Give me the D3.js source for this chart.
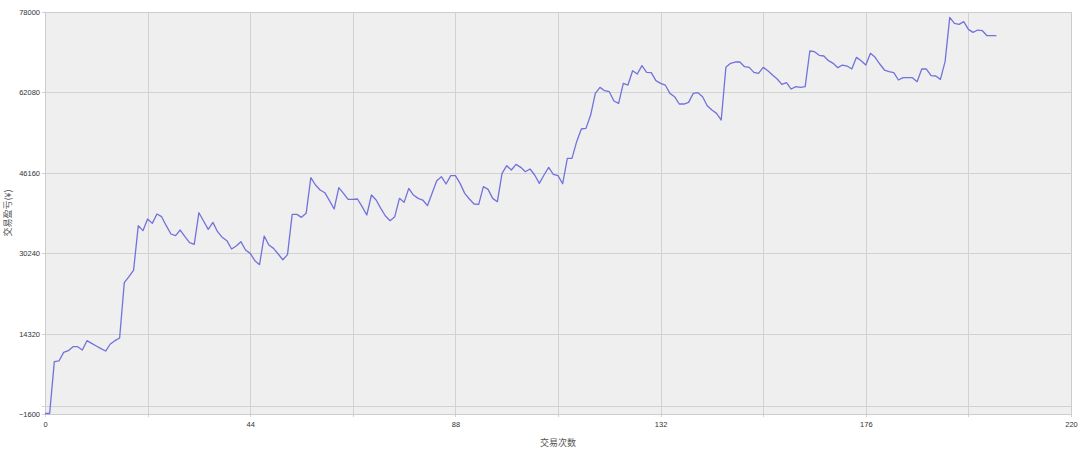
<!DOCTYPE html>
<html><head><meta charset="utf-8">
<script src="https://cdn.jsdelivr.net/npm/d3@7/dist/d3.min.js"></script>
<style>body{margin:0;background:#fff}svg{display:block}</style>
</head><body>
<svg id="c" width="1080" height="453"></svg>
<script>
const profit = [
-1500,-1500,8760,8900,10610,10940,11730,11730,11070,12920,
12390,11860,11340,10870,12260,12920,13450,24400,25590,26910,
35690,34700,37010,36150,38000,37470,35690,34040,33710,34830,
33510,32320,31990,38260,36610,34970,36350,34500,33380,32720,
31070,31660,32520,30870,30210,28760,27970,33640,31860,31200,
30080,28950,29950,37930,37930,37340,38130,45190,43740,42750,
42220,40640,38990,43210,42090,40900,40900,40970,39450,37800,
41760,40770,39120,37600,36680,37470,41100,40310,43080,41760,
41100,40770,39650,42090,44600,45390,43940,45590,45590,44070,
42090,40970,39980,39920,43410,42880,41100,40440,46050,47570,
46710,47830,47240,46380,46910,45720,44070,45720,47240,45850,
45590,44000,49020,49020,52322,54830,54962,57602,61892,63080,
62420,62222,60374,59912,63872,63542,66380,65720,67370,66050,
65984,64400,63872,63542,61892,61232,59780,59780,60110,61892,
62024,61232,59450,58592,57932,56612,67040,67832,68096,68096,
67172,67040,66050,65852,67040,66380,65522,64730,63674,64004,
62750,63212,63080,63212,70274,70142,69416,69284,68360,67832,
66974,67502,67304,66710,69020,68360,67502,69812,69020,67700,
66512,66182,65984,64532,64994,64994,64994,64202,66710,66710,
65390,65324,64664,68162,76940,75752,75554,76082,74564,73970,
74432,74300,73310,73310,73310
];
const yTicks = [-1600, 14320, 30240, 46160, 62080, 78000];
const yGridExtra = [0];
const xTicks = [0, 22, 44, 66, 88, 110, 132, 154, 176, 198, 220];
const xLabels = [0, 44, 88, 132, 176, 220];
const xTitle = "交易次数";
const yTitle = "交易盈亏(¥)";

const svg = d3.select("#c");
const L = 45, R = 1071, T = 12, B = 414;
const x = d3.scaleLinear().domain([0, 220]).range([L, R]);
const y = d3.scaleLinear().domain([-1600, 78000]).range([B, T]);

svg.append("rect").attr("x", L).attr("y", T).attr("width", R - L).attr("height", B - T).attr("fill", "#efefef");

const grid = svg.append("g").attr("stroke", "#d2d2d2").attr("stroke-width", 1).attr("shape-rendering", "crispEdges");
grid.selectAll("line.v").data(xTicks).join("line")
  .attr("x1", d => Math.round(x(d)) + 0.5).attr("x2", d => Math.round(x(d)) + 0.5)
  .attr("y1", T).attr("y2", B + 3);
grid.selectAll("line.h").data(yTicks.concat(yGridExtra)).join("line")
  .attr("y1", d => Math.round(y(d)) + 0.5).attr("y2", d => Math.round(y(d)) + 0.5)
  .attr("x1", L - 3).attr("x2", R);

const yAxis = d3.axisLeft(y).tickValues(yTicks).tickSize(0).tickPadding(5).tickFormat(d3.format("d"));
const ya = svg.append("g").attr("transform", `translate(${L},0)`).call(yAxis);
ya.select(".domain").remove();
ya.selectAll("text").attr("font-family", "Liberation Sans, Arial, sans-serif").attr("font-size", 7.5).attr("fill", "#333");

const xAxis = d3.axisBottom(x).tickValues(xLabels).tickSize(0).tickPadding(8).tickFormat(d3.format("d"));
const xa = svg.append("g").attr("transform", `translate(0,${B})`).call(xAxis);
xa.select(".domain").remove();
xa.selectAll("text").attr("font-family", "Liberation Sans, Arial, sans-serif").attr("font-size", 7.5).attr("fill", "#333");

svg.append("rect").attr("x", L + 0.5).attr("y", T + 0.5).attr("width", R - L).attr("height", B - T)
  .attr("fill", "none").attr("stroke", "#cccccc").attr("shape-rendering", "crispEdges");

const line = d3.line().x((d, i) => x(i)).y(d => y(d));
svg.append("path").datum(profit).attr("d", line).attr("fill", "none")
  .attr("stroke", "#7272dc").attr("stroke-width", 1.3).attr("stroke-linejoin", "round");

svg.append("text").attr("x", (L + R) / 2).attr("y", 446).attr("text-anchor", "middle")
  .attr("font-family", "Noto Sans CJK SC, sans-serif").attr("font-size", 9).attr("fill", "#555").text(xTitle);
svg.append("text").attr("transform", `translate(11,${(T + B) / 2}) rotate(-90)`).attr("text-anchor", "middle")
  .attr("font-family", "Noto Sans CJK SC, sans-serif").attr("font-size", 9).attr("fill", "#555").text(yTitle);
</script>
</body></html>
